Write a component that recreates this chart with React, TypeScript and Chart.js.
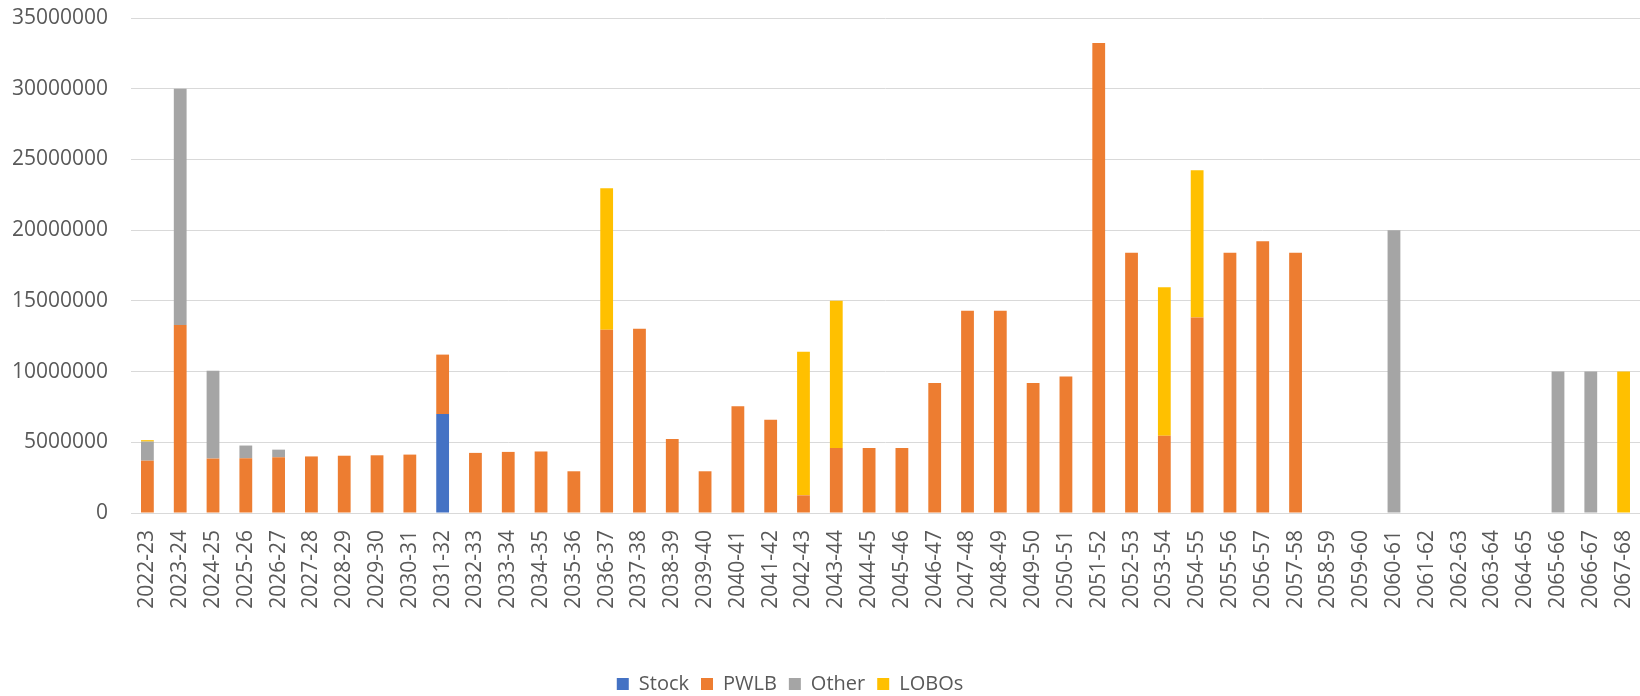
import React, { useEffect, useRef } from "react";
import { Chart, registerables } from "chart.js";

Chart.register(...registerables);

const categories = [
  "2022-23", "2023-24", "2024-25", "2025-26", "2026-27", "2027-28", "2028-29", "2029-30",
  "2030-31", "2031-32", "2032-33", "2033-34", "2034-35", "2035-36", "2036-37", "2037-38",
  "2038-39", "2039-40", "2040-41", "2041-42", "2042-43", "2043-44", "2044-45", "2045-46",
  "2046-47", "2047-48", "2048-49", "2049-50", "2050-51", "2051-52", "2052-53", "2053-54",
  "2054-55", "2055-56", "2056-57", "2057-58", "2058-59", "2059-60", "2060-61", "2061-62",
  "2062-63", "2063-64", "2064-65", "2065-66", "2066-67", "2067-68",
];

const stock = [
  0, 0, 0, 0, 0, 0, 0, 0,
  0, 7000000, 0, 0, 0, 0, 0, 0,
  0, 0, 0, 0, 0, 0, 0, 0,
  0, 0, 0, 0, 0, 0, 0, 0,
  0, 0, 0, 0, 0, 0, 0, 0,
  0, 0, 0, 0, 0, 0,
];

const pwlb = [
  3700000, 13300000, 3850000, 3870000, 3940000, 4000000, 4050000, 4080000,
  4130000, 4200000, 4250000, 4320000, 4350000, 2950000, 12960000, 13030000,
  5240000, 2950000, 7550000, 6590000, 1250000, 4600000, 4600000, 4600000,
  9200000, 14300000, 14300000, 9200000, 9650000, 33240000, 18410000, 5470000,
  13830000, 18410000, 19210000, 18410000, 0, 0, 0, 0,
  0, 0, 0, 0, 0, 0,
];

const other = [
  1350000, 16700000, 6200000, 900000, 540000, 0, 0, 0,
  0, 0, 0, 0, 0, 0, 0, 0,
  0, 0, 0, 0, 0, 0, 0, 0,
  0, 0, 0, 0, 0, 0, 0, 0,
  0, 0, 0, 0, 0, 0, 20000000, 0,
  0, 0, 0, 10000000, 10000000, 0,
];

const lobos = [
  100000, 0, 0, 0, 0, 0, 0, 0,
  0, 0, 0, 0, 0, 0, 10000000, 0,
  0, 0, 0, 0, 10150000, 10400000, 0, 0,
  0, 0, 0, 0, 0, 0, 0, 10500000,
  10400000, 0, 0, 0, 0, 0, 0, 0,
  0, 0, 0, 0, 0, 10000000,
];

const seriesNames = ["Stock", "PWLB", "Other", "LOBOs"];
const seriesColors = ["#4472C4", "#ED7D31", "#A5A5A5", "#FFC000"];

const FONT = "'Open Sans', 'Noto Sans', sans-serif";

const legendShift = {
  id: "legendShift",
  afterLayout(chart: any) {
    if (chart.legend) {
      chart.legend.left -= 32;
      chart.legend.right -= 32;
    }
  },
};

export default function App() {
  const ref = useRef<HTMLCanvasElement | null>(null);

  useEffect(() => {
    document.body.style.margin = "0";
    const canvas = ref.current;
    if (!canvas) return;
    const seriesData = [stock, pwlb, other, lobos];
    const chart = new Chart(canvas, {
      type: "bar",
      data: {
        labels: categories,
        datasets: seriesData.map((d, i) => ({
          label: seriesNames[i],
          data: d,
          backgroundColor: seriesColors[i],
          borderWidth: 0,
          barPercentage: 0.39,
          categoryPercentage: 1.0,
        })),
      },
      plugins: [legendShift],
      options: {
        animation: false,
        responsive: false,
        maintainAspectRatio: false,
        layout: { padding: { left: 0, right: -4, top: 18, bottom: -8 } },
        plugins: {
          tooltip: { enabled: false },
          legend: {
            position: "bottom",
            labels: {
              boxWidth: 12,
              boxHeight: 12,
              padding: 12,
              color: "#595959",
              font: { family: FONT, size: 20 },
            },
          },
        },
        scales: {
          x: {
            stacked: true,
            grid: { display: false, drawTicks: false },
            border: { display: true, color: "#D9D9D9", width: 1 },
            ticks: {
              autoSkip: false,
              maxRotation: 90,
              minRotation: 90,
              padding: 17,
              color: "#595959",
              font: { family: FONT, size: 21 },
            },
            afterFit: (scale: any) => {
              scale.height = 149;
              scale.paddingLeft = 0;
              scale.paddingRight = 0;
            },
          },
          y: {
            stacked: true,
            min: 0,
            max: 35000000,
            grid: { color: "#D9D9D9", lineWidth: 1, drawTicks: false },
            border: { display: false },
            ticks: {
              stepSize: 5000000,
              padding: 23,
              color: "#595959",
              font: { family: FONT, size: 21 },
              callback: (v: any) => String(v),
            },
            afterFit: (scale: any) => {
              scale.width = 131;
              scale.paddingTop = 0;
              scale.paddingBottom = 0;
            },
          },
        },
      },
    });
    return () => chart.destroy();
  }, []);

  return (
    <div style={{ position: "relative", width: 1640, height: 696, overflow: "hidden", background: "#fff" }}>
      <canvas ref={ref} width={1640} height={696} style={{ display: "block", width: 1640, height: 696 }} />
    </div>
  );
}
